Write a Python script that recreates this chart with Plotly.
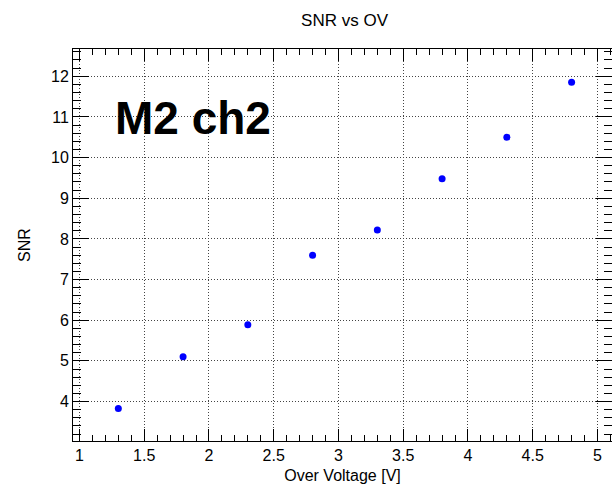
import plotly.graph_objects as go

ov = [1.3, 1.8, 2.3, 2.8, 3.3, 3.8, 4.3, 4.8]
snr = [3.83, 5.10, 5.89, 7.60, 8.22, 9.48, 10.50, 11.85]
x_ticks = [1, 1.5, 2, 2.5, 3, 3.5, 4, 4.5, 5]
x_tick_labels = ["1", "1.5", "2", "2.5", "3", "3.5", "4", "4.5", "5"]
y_ticks = [4, 5, 6, 7, 8, 9, 10, 11, 12]
y_tick_labels = ["4", "5", "6", "7", "8", "9", "10", "11", "12"]

FONT = "Liberation Sans, Arial, Helvetica, sans-serif"

fig = go.Figure()
fig.add_trace(go.Scatter(
    x=ov, y=snr, mode="markers",
    marker=dict(color="#0000ff", size=7, line=dict(width=0)),
    showlegend=False,
))

fig.add_annotation(
    x=1.259, y=10.97, xref="x", yref="y", text="<b>M2 ch2</b>",
    showarrow=False, xanchor="left", yanchor="middle",
    font=dict(family=FONT, size=46, color="black"),
)

axis_common = dict(
    showline=True, linecolor="black", linewidth=1, mirror="ticks",
    ticks="inside", tickcolor="black", tickwidth=1,
    showgrid=True, gridcolor="#444444", griddash="1px,2px", gridwidth=1,
    zeroline=False,
    tickfont=dict(family=FONT, size=16, color="black"),
)

fig.update_layout(
    width=612, height=488,
    margin=dict(l=73, r=0, t=49, b=47),
    paper_bgcolor="white", plot_bgcolor="white",
    title=dict(text="SNR vs OV", x=0.563, xanchor="center", y=0.958, yanchor="middle",
               font=dict(family=FONT, size=17, color="black")),
    xaxis=dict(
        range=[0.95, 5.112], tickvals=x_ticks, ticktext=x_tick_labels, ticklen=12,
        minor=dict(dtick=0.1, tick0=0, ticklen=6, ticks="inside", tickcolor="black", showgrid=False),
        title=dict(text="Over Voltage [V]", standoff=6,
                   font=dict(family=FONT, size=16, color="black")),
        **axis_common,
    ),
    yaxis=dict(
        range=[3.03, 12.67], tickvals=y_ticks, ticktext=y_tick_labels, ticklen=16,
        minor=dict(dtick=0.2, tick0=0, ticklen=8, ticks="inside", tickcolor="black", showgrid=False),
        title=dict(text="SNR", standoff=16,
                   font=dict(family=FONT, size=16, color="black")),
        **axis_common,
    ),
)

fig.write_html("out.html")
